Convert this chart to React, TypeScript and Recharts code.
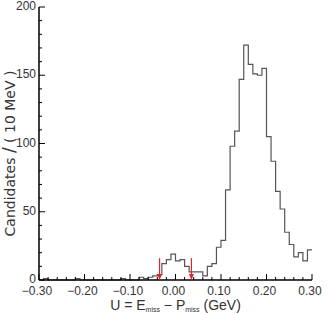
import { Label, Line, LineChart, ReferenceDot, ReferenceLine, XAxis, YAxis } from "recharts";

// candidates per 10 MeV bin, from U = -0.30 to 0.30 GeV
const counts = [
  0, 1, 0, 0, 0, 0, 0, 0, 1, 0,
  0, 0, 0, 0, 0, 0, 0, 0, 1, 0,
  0, 0, 2, 1, 2, 3, 4, 12, 15, 19,
  14, 15, 10, 6, 6, 6, 3, 10, 12, 24,
  29, 66, 98, 109, 147, 172, 158, 151, 150, 155,
  105, 87, 65, 52, 35, 26, 17, 20, 14, 22,
];

const xMajor = [-0.3, -0.2, -0.1, 0, 0.1, 0.2, 0.3];
const xLabels = ["−0.30", "−0.20", "−0.10", "0.00", "0.10", "0.20", "0.30"];
const yMajor = [0, 50, 100, 150, 200];
const yLabels = ["0", "50", "100", "150", "200"];

// signal window arrows
const arrowX = [-0.035, 0.035];
const arrowTop = 16;

const xTicks = Array.from({ length: 31 }, (_, i) => (-30 + i * 2) / 100);
const yTicks = Array.from({ length: 21 }, (_, i) => i * 10);

// step data at bin edges
const data = counts.map((c, i) => ({ u: (-30 + i) / 100, count: c }));
data.push({ u: 0.3, count: counts[counts.length - 1] });

const FONT = "'Liberation Sans', Arial, sans-serif";
const TEXT = "#333";

const isMajorX = (v: number) => xMajor.findIndex((m) => Math.abs(m - v) < 1e-6);
const isMajorY = (v: number) => yMajor.indexOf(v);

function BottomTick(props: any) {
  const { x, y, payload } = props;
  const idx = isMajorX(payload.value);
  return (
    <g>
      <line x1={x} x2={x} y1={y} y2={y - (idx >= 0 ? 6 : 3)} stroke="#000" />
      {idx >= 0 ? (
        <text x={x - 2} y={y + 15} textAnchor="middle" fontSize={12} fontFamily={FONT} fill={TEXT}>
          {xLabels[idx]}
        </text>
      ) : null}
    </g>
  );
}

function TopTick(props: any) {
  const { x, y, payload } = props;
  const idx = isMajorX(payload.value);
  return <line x1={x} x2={x} y1={y} y2={y + (idx >= 0 ? 6 : 3)} stroke="#000" />;
}

function LeftTick(props: any) {
  const { x, y, payload } = props;
  const idx = isMajorY(payload.value);
  return (
    <g>
      <line x1={x} x2={x + (idx >= 0 ? 6 : 3)} y1={y} y2={y} stroke="#000" />
      {idx >= 0 ? (
        <text x={x - 3} y={y + 3} textAnchor="end" fontSize={12} fontFamily={FONT} fill={TEXT}>
          {yLabels[idx]}
        </text>
      ) : null}
    </g>
  );
}

function RightTick(props: any) {
  const { x, y, payload } = props;
  const idx = isMajorY(payload.value);
  return <line x1={x} x2={x - (idx >= 0 ? 6 : 3)} y1={y} y2={y} stroke="#000" />;
}

function XTitle(props: any) {
  const vb = props.viewBox;
  const cx = vb.x + vb.width / 2;
  const cy = vb.y + 30;
  return (
    <text x={cx} y={cy} textAnchor="middle" fontSize={14} fontFamily={FONT} fill={TEXT}>
      U = E<tspan fontSize={7} dy={2}>miss</tspan>
      <tspan dy={-2}> − P</tspan>
      <tspan fontSize={7} dy={2}>miss</tspan>
      <tspan dy={-2}> (GeV)</tspan>
    </text>
  );
}

function YTitle(props: any) {
  const vb = props.viewBox;
  const cx = vb.x + 15;
  const cy = vb.y + vb.height / 2 + 10;
  return (
    <text
      x={cx}
      y={cy}
      transform={`rotate(-90 ${cx} ${cy})`}
      textAnchor="middle"
      fontSize={14}
      fontFamily="'DejaVu Sans', sans-serif"
      fill={TEXT}
    >
      Candidates <tspan fontSize={17}>/</tspan> ( 10 MeV )
    </text>
  );
}

function ArrowHead(props: any) {
  const { cx, cy } = props;
  return <polygon points={`${cx},${cy} ${cx - 2.5},${cy - 6} ${cx + 2.5},${cy - 6}`} fill="#e8202a" />;
}

export default function App() {
  return (
    <div style={{ position: "absolute", left: 0, top: 0 }}>
      <LineChart width={327} height={314} data={data} margin={{ top: 7, right: 15, bottom: 0, left: 0 }}>
        <XAxis
          xAxisId="x"
          dataKey="u"
          type="number"
          domain={[-0.3, 0.3]}
          ticks={xTicks}
          interval={0}
          height={34}
          tickSize={0}
          tickMargin={0}
          tickLine={false}
          tick={BottomTick}
          axisLine={{ stroke: "#000", strokeWidth: 1.5 }}
        >
          <Label content={XTitle} />
        </XAxis>
        <XAxis
          xAxisId="top"
          orientation="top"
          dataKey="u"
          type="number"
          domain={[-0.3, 0.3]}
          ticks={xTicks}
          interval={0}
          height={0}
          tickSize={0}
          tickMargin={0}
          tickLine={false}
          tick={TopTick}
          axisLine={{ stroke: "#000", strokeWidth: 1.5 }}
        />
        <YAxis
          yAxisId="y"
          type="number"
          domain={[0, 200]}
          ticks={yTicks}
          interval={0}
          width={39}
          tickSize={0}
          tickMargin={0}
          tickLine={false}
          tick={LeftTick}
          axisLine={{ stroke: "#000", strokeWidth: 1.5 }}
        >
          <Label content={YTitle} />
        </YAxis>
        <YAxis
          yAxisId="right"
          orientation="right"
          type="number"
          domain={[0, 200]}
          ticks={yTicks}
          interval={0}
          width={0}
          tickSize={0}
          tickMargin={0}
          tickLine={false}
          tick={RightTick}
          axisLine={{ stroke: "#000", strokeWidth: 1.5 }}
        />
        <Line
          xAxisId="x"
          yAxisId="y"
          dataKey="count"
          type="stepAfter"
          stroke="#555"
          strokeWidth={1.2}
          dot={false}
          isAnimationActive={false}
        />
        {arrowX.map((ax) => (
          <ReferenceLine
            key={`l${ax}`}
            xAxisId="x"
            yAxisId="y"
            segment={[
              { x: ax, y: arrowTop },
              { x: ax, y: 2 },
            ]}
            stroke="#e8202a"
            strokeWidth={1.2}
          />
        ))}
        {arrowX.map((ax) => (
          <ReferenceDot key={`d${ax}`} xAxisId="x" yAxisId="y" x={ax} y={0} r={3} shape={ArrowHead} />
        ))}
      </LineChart>
    </div>
  );
}
